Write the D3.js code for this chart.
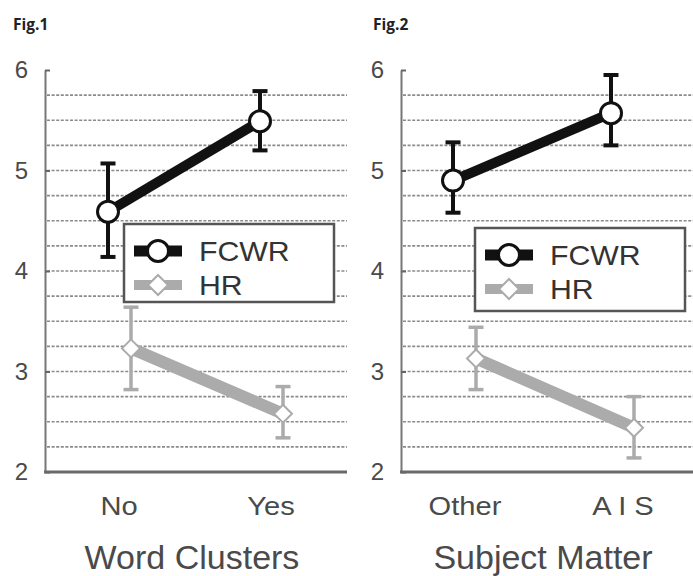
<!DOCTYPE html>
<html>
<head>
<meta charset="utf-8">
<script src="https://cdn.jsdelivr.net/npm/d3@7/dist/d3.min.js"></script>
<style>
  html, body { margin: 0; padding: 0; background: #fff; }
  svg { display: block; }
  .sans { font-family: "Liberation Sans", Arimo, Arial, Helvetica, sans-serif; }
  .fig { font-family: "Open Sans", "Noto Sans", sans-serif; font-weight: 700; }
</style>
</head>
<body>
<svg id="chart" width="693" height="576"></svg>
<script>
// ---- Data ----
const seriesNames = ["FCWR", "HR"];
const yTicks = [2, 3, 4, 5, 6];
const gridValues = [2.25, 2.5, 2.75, 3, 3.25, 3.5, 3.75, 4, 4.25, 4.5, 4.75, 5, 5.25, 5.5, 5.75];

const fig1Title = "Fig.1";
const fig1Axis = "Word Clusters";
const fig1Categories = ["No", "Yes"];
const fig1FCWR = [4.59, 5.49];
const fig1FCWRLow = [4.14, 5.20];
const fig1FCWRHigh = [5.07, 5.79];
const fig1HR = [3.23, 2.58];
const fig1HRLow = [2.82, 2.34];
const fig1HRHigh = [3.64, 2.85];

const fig2Title = "Fig.2";
const fig2Axis = "Subject Matter";
const fig2Categories = ["Other", "A I S"];
const fig2FCWR = [4.90, 5.57];
const fig2FCWRLow = [4.58, 5.25];
const fig2FCWRHigh = [5.28, 5.95];
const fig2HR = [3.13, 2.44];
const fig2HRLow = [2.82, 2.14];
const fig2HRHigh = [3.44, 2.75];

// ---- Drawing ----
const svg = d3.select("#chart");
const textColor = "#4a4a4a";
const hrColor = "#ababab";

const panels = [
  { title: fig1Title, axis: fig1Axis, cats: fig1Categories,
    fc: fig1FCWR, fcLo: fig1FCWRLow, fcHi: fig1FCWRHigh,
    hr: fig1HR, hrLo: fig1HRLow, hrHi: fig1HRHigh,
    x0: 45, x1: 347, catRange: [119, 271], offs: [-11, 12],
    titleX: 13, legend: { x: 124, y: 224, w: 210, h: 78 } },
  { title: fig2Title, axis: fig2Axis, cats: fig2Categories,
    fc: fig2FCWR, fcLo: fig2FCWRLow, fcHi: fig2FCWRHigh,
    hr: fig2HR, hrLo: fig2HRLow, hrHi: fig2HRHigh,
    x0: 401, x1: 693, catRange: [465, 623], offs: [-12, 11],
    titleX: 373, legend: { x: 475, y: 228, w: 210, h: 83 } }
];

const y = d3.scaleLinear().domain([2, 6]).range([472, 70]);

panels.forEach(p => {
  const g = svg.append("g");
  const x = d3.scalePoint().domain(p.cats).range(p.catRange).padding(0);

  // Fig label
  g.append("text").attr("class", "fig").attr("x", p.titleX).attr("y", 30)
    .attr("font-size", 15.5).attr("fill", "#222").text(p.title);

  // gridlines
  g.append("g").selectAll("line").data(gridValues).join("line")
    .attr("x1", p.x0 + 2).attr("x2", p.x1)
    .attr("y1", d => y(d)).attr("y2", d => y(d))
    .attr("stroke", "#8a8a8a").attr("stroke-width", 1.6)
    .attr("stroke-dasharray", "3,1.6");

  // y axis
  const yAxis = d3.axisLeft(y).tickValues(yTicks).tickSizeInner(-5).tickSizeOuter(0)
    .tickPadding(17).tickFormat(d3.format("d"));
  const ya = g.append("g").attr("transform", `translate(${p.x0},0)`).call(yAxis);
  ya.attr("font-family", null);
  ya.select(".domain").attr("stroke", "#777").attr("stroke-width", 2);
  ya.selectAll(".tick line").attr("stroke", "#666").attr("stroke-width", 2);
  ya.selectAll(".tick text").attr("class", "sans")
    .attr("font-size", 24).attr("fill", textColor);

  // x baseline
  g.append("line").attr("x1", p.x0 - 1).attr("x2", p.x1)
    .attr("y1", y(2)).attr("y2", y(2))
    .attr("stroke", "#6a6a6a").attr("stroke-width", 3);

  // category labels
  g.append("g").selectAll("text").data(p.cats).join("text").attr("class", "sans")
    .attr("x", d => x(d)).attr("y", 515).attr("text-anchor", "middle")
    .attr("font-size", 26).attr("fill", textColor)
    .attr("transform", d => `translate(${x(d)},0) scale(1.12,1) translate(${-x(d)},0)`)
    .text(d => d);

  // axis title
  g.append("text").attr("class", "sans").attr("x", (p.x0 + p.x1) / 2 - 4).attr("y", 569).attr("text-anchor", "middle")
    .attr("font-size", 34).attr("fill", textColor).text(p.axis);

  const series = [
    { name: seriesNames[1], v: p.hr, lo: p.hrLo, hi: p.hrHi, off: p.offs[1], color: hrColor, lw: 12, ew: 3.5, cap: 15 },
    { name: seriesNames[0], v: p.fc, lo: p.fcLo, hi: p.fcHi, off: p.offs[0], color: "#111", lw: 10, ew: 4, cap: 15 }
  ];

  series.forEach(s => {
    const sg = g.append("g");
    const pts = p.cats.map((c, i) => ({ c, i, cx: x(c) + s.off }));
    sg.selectAll("line.eb").data(pts).join("line").attr("class", "eb")
      .attr("x1", d => d.cx).attr("x2", d => d.cx)
      .attr("y1", d => y(s.lo[d.i])).attr("y2", d => y(s.hi[d.i]))
      .attr("stroke", s.color).attr("stroke-width", s.ew);
    ["lo", "hi"].forEach(k => {
      sg.selectAll("line.cap" + k).data(pts).join("line").attr("class", "cap" + k)
        .attr("x1", d => d.cx - s.cap / 2).attr("x2", d => d.cx + s.cap / 2)
        .attr("y1", d => y(s[k][d.i])).attr("y2", d => y(s[k][d.i]))
        .attr("stroke", s.color).attr("stroke-width", s.ew);
    });
    sg.append("path").datum(pts)
      .attr("d", d3.line().x(d => d.cx).y(d => y(s.v[d.i])))
      .attr("fill", "none").attr("stroke", s.color).attr("stroke-width", s.lw);
    if (s.name === "FCWR") {
      sg.selectAll("circle").data(pts).join("circle")
        .attr("cx", d => d.cx).attr("cy", d => y(s.v[d.i])).attr("r", 10.5)
        .attr("fill", "#fff").attr("stroke", "#111").attr("stroke-width", 3);
    } else {
      sg.selectAll("path.m").data(pts).join("path").attr("class", "m")
        .attr("d", d => {
          const cx = d.cx, cy = y(s.v[d.i]), r = 9;
          return `M${cx},${cy - r}L${cx + r},${cy}L${cx},${cy + r}L${cx - r},${cy}Z`;
        })
        .attr("fill", "#fff").attr("stroke", hrColor).attr("stroke-width", 2);
    }
  });

  // legend
  const L = p.legend;
  const lg = g.append("g");
  lg.append("rect").attr("x", L.x).attr("y", L.y).attr("width", L.w).attr("height", L.h)
    .attr("fill", "#fff").attr("stroke", "#555").attr("stroke-width", 2.5);
  const symX0 = L.x + 10, symX1 = L.x + 58, symC = L.x + 34;
  const rows = [
    { name: seriesNames[0], cy: L.y + 27, color: "#111" },
    { name: seriesNames[1], cy: L.y + 61, color: hrColor }
  ];
  rows.forEach(r => {
    lg.append("line").attr("x1", symX0).attr("x2", symX1).attr("y1", r.cy).attr("y2", r.cy)
      .attr("stroke", r.color).attr("stroke-width", r.name === "FCWR" ? 11 : 10);
    if (r.name === "FCWR") {
      lg.append("circle").attr("cx", symC).attr("cy", r.cy).attr("r", 10.5)
        .attr("fill", "#fff").attr("stroke", "#111").attr("stroke-width", 3);
    } else {
      const rr = 10;
      lg.append("path").attr("d", `M${symC},${r.cy - rr}L${symC + rr},${r.cy}L${symC},${r.cy + rr}L${symC - rr},${r.cy}Z`)
        .attr("fill", "#fff").attr("stroke", hrColor).attr("stroke-width", 2);
    }
    lg.append("text").attr("class", "sans").attr("x", L.x + 75).attr("y", r.cy + 10)
      .attr("font-size", 28).attr("fill", "#333")
      .attr("transform", `translate(${L.x + 75},0) scale(1.08,1) translate(${-(L.x + 75)},0)`)
      .text(r.name);
  });
});
</script>
</body>
</html>
